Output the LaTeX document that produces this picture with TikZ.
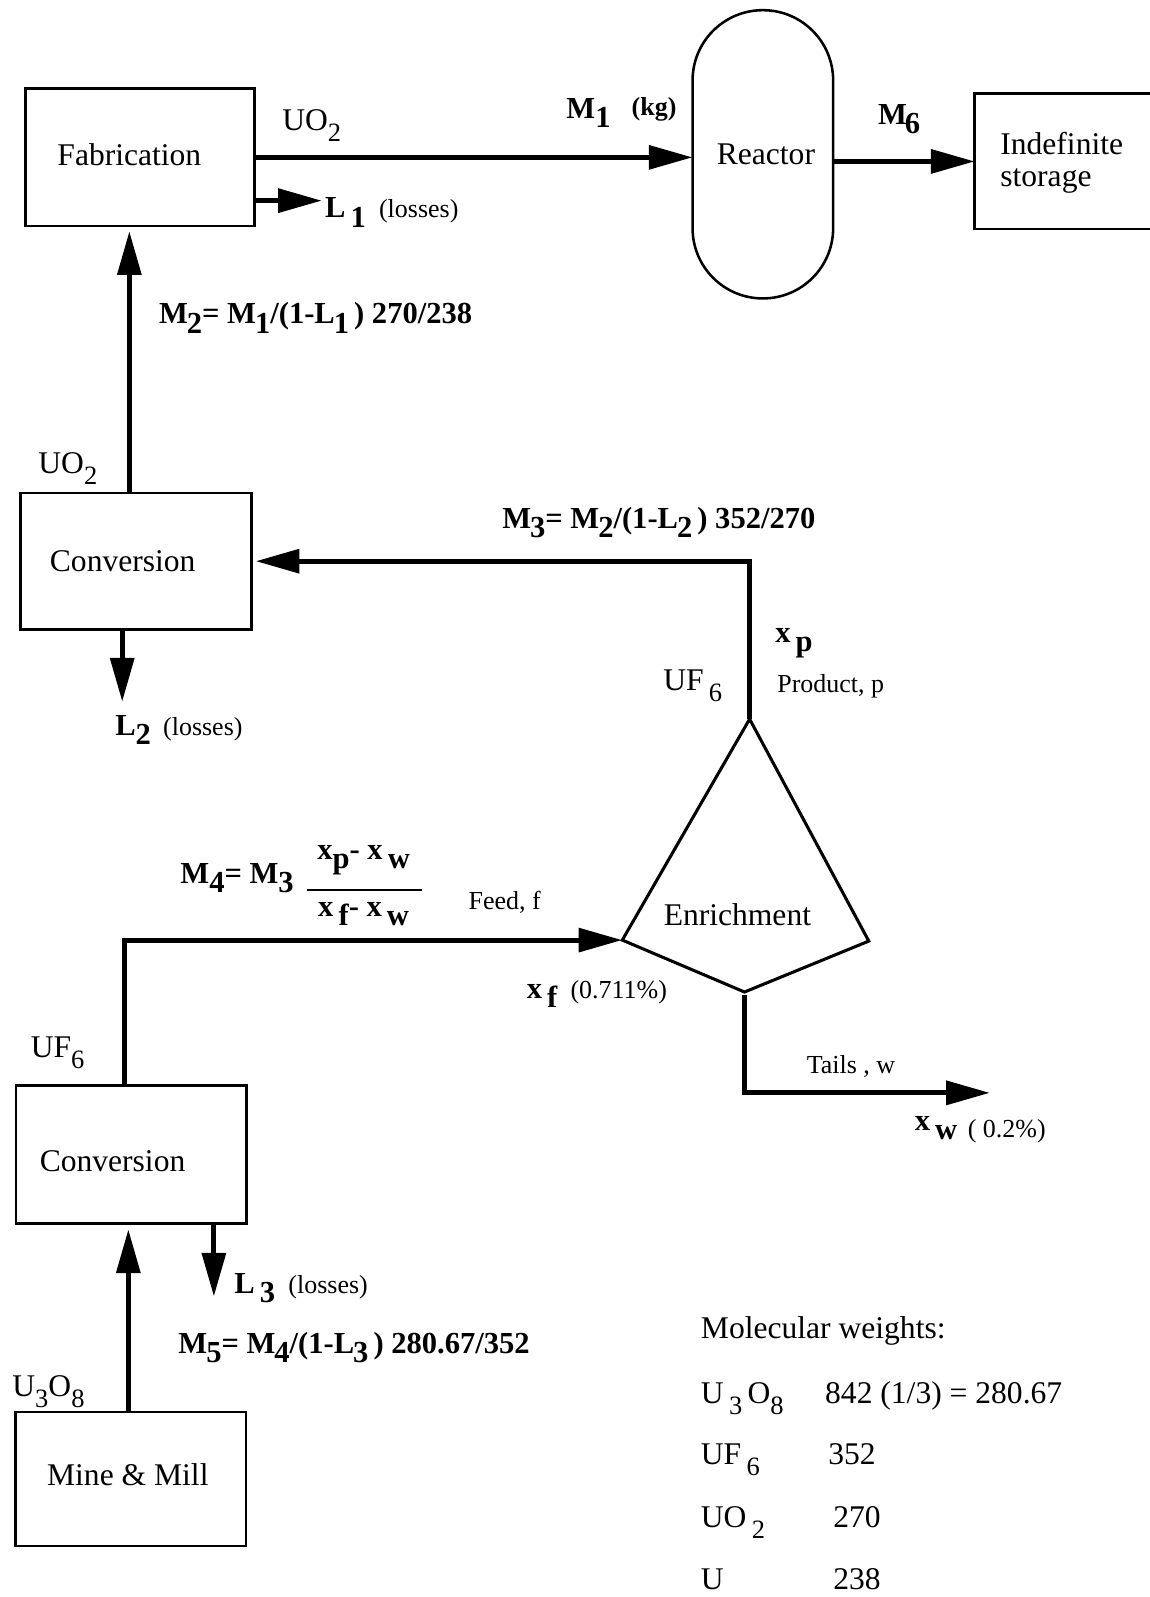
\documentclass[tikz,border=0pt]{standalone}
\usepackage{fontspec}
\setmainfont{Liberation Serif}
\usetikzlibrary{arrows.meta}

% lowered subscripts: full size (bold labels) and reduced size (formulas)
\newcommand\dn[1]{\raisebox{-0.3em}{#1}}
\newcommand\dnr[1]{\raisebox{-0.35em}{\fontsize{26}{26}\selectfont #1}}

\tikzset{
  box/.style={draw, line width=2.5pt, outer sep=0pt, inner sep=0pt},
  flow/.style={line width=5pt, line join=miter, -{Triangle[length=43pt,width=23pt]}},
  txt/.style={inner sep=0pt, anchor=base west, font=\fontsize{31}{36}\selectfont},
  small/.style={inner sep=0pt, anchor=base west, font=\fontsize{25.5}{30}\selectfont},
  eq/.style={inner sep=0pt, anchor=base west, font=\fontsize{30}{36}\selectfont\bfseries},
}

\begin{document}
\begin{tikzpicture}[x=1pt,y=-1pt]
\useasboundingbox (0,0) rectangle (1129,1568);
\clip (0,0) rectangle (1129,1568);
\fill[white] (0,0) rectangle (1129,1568);

% process boxes
\node[box, minimum width=225pt, minimum height=135pt] (fab) at (137.5,154.5) {};
\node[txt, anchor=center] (fabT) at (127,152) {Fabrication};
\node[box, rounded corners=68.9pt, minimum width=138pt, minimum height=283pt] (reactor) at (749,151.5) {};
\node[txt, anchor=center] (reactorT) at (752,152) {Reactor};
\node[box, minimum width=183pt, minimum height=133pt] (store) at (1048.5,158.5) {};
\node[txt] (storeT1) at (982,152) {Indefinite};
\node[txt] (storeT2) at (982,183) {storage};
\node[box, minimum width=227pt, minimum height=134pt] (conv1) at (133.5,551) {};
\node[txt, anchor=center] (conv1T) at (120.5,551) {Conversion};
\node[box, minimum width=226.5pt, minimum height=135pt] (conv2) at (128.75,1133.5) {};
\node[txt, anchor=center] (conv2T) at (110.5,1140) {Conversion};
\node[box, minimum width=226.5pt, minimum height=131.5pt] (mine) at (128.25,1452.25) {};
\node[txt, anchor=center] (mineT) at (125.5,1448) {Mine \& Mill};

% enrichment kite
\coordinate (kT) at (736,706);
\coordinate (kL) at (611,923);
\coordinate (kB) at (731,974);
\coordinate (kR) at (853,924);
\draw[line width=3pt, line join=miter] (kT) -- (kR) -- (kB) -- (kL) -- cycle;
\node[txt, anchor=center] (enrT) at (724,898) {Enrichment};

% material flows
\draw[flow] (fab.east) -- (fab.east -| reactor.west);
\draw[flow] (reactor.east |- store.west) -- (store.west);
\coordinate (l1tip) at (316,197);
\draw[flow] (fab.east |- l1tip) -- (l1tip);
\draw[flow, shorten >=5pt] ([xshift=-6.5pt]conv1.north) -- ([xshift=-6.5pt]conv1.north |- fab.south);
\coordinate (l2tip) at (120,689);
\draw[flow] (conv1.south -| l2tip) -- (l2tip);
\draw[flow, shorten >=4pt] (kT) |- (conv1.east);
\draw[flow] ([xshift=-6.75pt]conv2.north) |- (kL);
\coordinate (tailTip) at (972,1073);
\draw[flow, shorten <=3pt] (kB) |- (tailTip);
\coordinate (l3tip) at (210,1273);
\draw[flow] (conv2.south -| l3tip) -- (l3tip);
\draw[flow, shorten >=6pt] ([xshift=-2.25pt]mine.north) -- ([xshift=-2.25pt]mine.north |- conv2.south);

% stream labels
\node[txt] (uo2a) at (277,128) {UO\dnr{2}};
\node[eq] (m1) at (556,116) {M\dn{1}};
\node[small, font=\fontsize{25.5}{30}\selectfont\bfseries] (kg) at (620,113) {(kg)};
\node[eq] (m6) at (862,122) {M\kern-2pt\dn{6}};
\node[eq] (l1) at (319,214) {L\,\dn{1}};
\node[small] (l1loss) at (372,214) {(losses)};
\node[eq] (m2) at (156,318) {M\kern-1pt\dn{2}= M\kern-1pt\dn{1}/(1-L\kern-1pt\dn{1}\,) 270/238};
\node[txt] (uo2b) at (37.5,465) {UO\dnr{2}};
\node[eq] (m3) at (493,519) {M\kern-1pt\dn{3}= M\kern-1pt\dn{2}/(1-L\kern-1pt\dn{2}\,) 352/270};
\node[eq] (xp) at (761,631) {x\,\dn{p}};
\node[txt] (uf6a) at (651,678) {UF\,\dnr{6}};
\node[small] (prod) at (763,680) {Product, p};
\node[eq] (l2) at (113,722) {L\dn{2}};
\node[small] (l2loss) at (160,722) {(losses)};

\node[eq] (m4) at (177,867) {M\dn{4}= M\dn{3}};
\node[eq, anchor=base] (num) at (357,844) {x\dn{p}- x\,\dn{w}};
\coordinate (barL) at (301,874);
\coordinate (barR) at (414,874);
\draw[line width=2.5pt] (barL) -- (barR);
\node[eq, anchor=base] (den) at (357,900) {x\,\dn{f}- x\,\dn{w}};
\node[small] (feed) at (460,893) {Feed, f};
\node[eq] (xf) at (517,980) {x\,\dn{f}};
\node[small] (xfval) at (560,980) {(0.711\%)};
\node[small] (tails) at (792,1054) {Tails , w};
\node[eq] (xw) at (898,1110) {x\,\dn{w}};
\node[small] (xwval) at (950,1117) {( 0.2\%)};

\node[txt] (uf6b) at (30,1038) {UF\dnr{6}};
\node[eq] (l3) at (230,1270) {L\,\dn{3}};
\node[small] (l3loss) at (283,1270) {(losses)};
\node[eq] (m5) at (175,1329) {M\kern-1pt\dn{5}= M\kern-1pt\dn{4}/(1-L\kern-1pt\dn{3}\,) 280.67/352};
\node[txt] (u3o8a) at (12,1371) {U\dnr{3}O\dnr{8}};

% molecular weights table
\node[txt] (mw) at (688,1314) {Molecular weights:};
\node[txt] (r1a) at (688,1378) {U\,\dnr{3}\,O\dnr{8}};
\node[txt] (r1b) at (810,1378) {842 (1/3) = 280.67};
\node[txt] (r2a) at (688,1438) {UF\,\dnr{6}};
\node[txt] (r2b) at (813,1438) {352};
\node[txt] (r3a) at (688,1500) {UO\,\dnr{2}};
\node[txt] (r3b) at (818,1500) {270};
\node[txt] (r4a) at (688,1561) {U};
\node[txt] (r4b) at (818,1561) {238};
\end{tikzpicture}
\end{document}
